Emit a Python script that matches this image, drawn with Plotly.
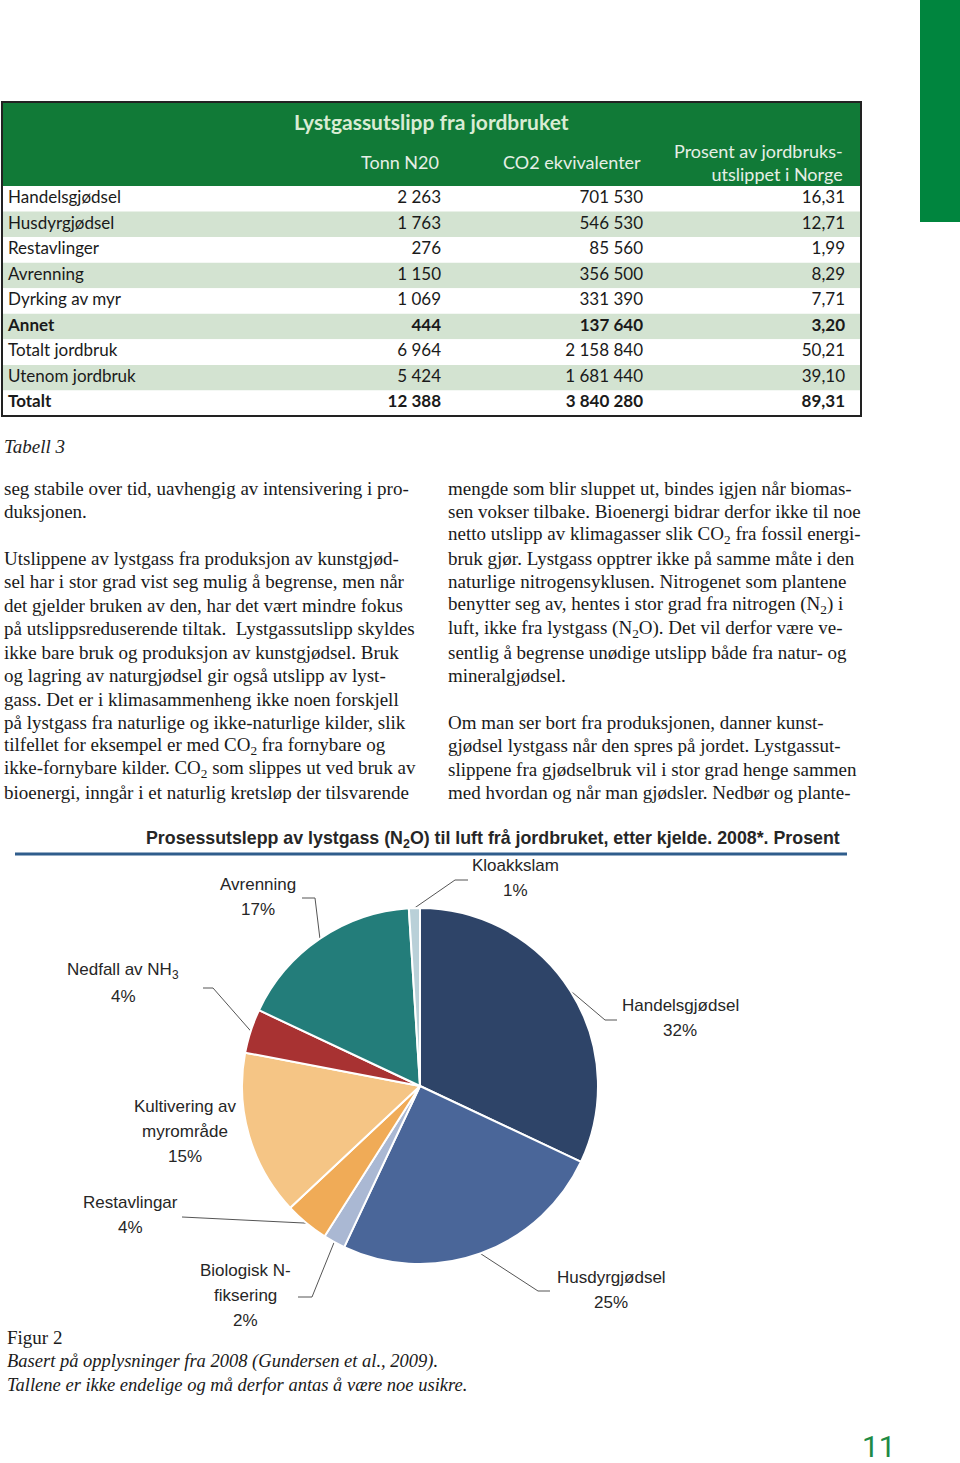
import math
import plotly.graph_objects as go

W, H = 960, 1463

# --- Tabell 3 data ---
ROW_LABELS = ["Handelsgjødsel", "Husdyrgjødsel", "Restavlinger", "Avrenning", "Dyrking av myr",
              "Annet", "Totalt jordbruk", "Utenom jordbruk", "Totalt"]
TONN_N2O = [2263, 1763, 276, 1150, 1069, 444, 6964, 5424, 12388]
CO2_EKV = [701530, 546530, 85560, 356500, 331390, 137640, 2158840, 1681440, 3840280]
PROSENT = [16.31, 12.71, 1.99, 8.29, 7.71, 3.20, 50.21, 39.10, 89.31]
BOLD_ROWS = ["Annet", "Totalt"]
COL_HEADERS = ["Tonn N20", "CO2 ekvivalenter", "Prosent av jordbruks-<br>utslippet i Norge"]

# --- Figur 2 data ---
PIE_LABELS = ["Handelsgjødsel", "Husdyrgjødsel", "Biologisk N-fiksering", "Restavlingar",
              "Kultivering av myrområde", "Nedfall av NH3", "Avrenning", "Kloakkslam"]
PIE_VALUES = [32, 25, 2, 4, 15, 4, 17, 1]
PIE_TEXT = [["Handelsgjødsel"], ["Husdyrgjødsel"], ["Biologisk N-", "fiksering"], ["Restavlingar"],
            ["Kultivering av", "myrområde"], ["Nedfall av NH<sub>3</sub>"], ["Avrenning"], ["Kloakkslam"]]
PIE_COLORS = ["#2e4468", "#4a6699", "#aab8d3", "#f0ab57", "#f5c585", "#a83232", "#237d7a", "#b9d0d8"]

LEFT_TEXT = [
    "seg stabile over tid, uavhengig av intensivering i pro-",
    "duksjonen.",
    "",
    "Utslippene av lystgass fra produksjon av kunstgjød-",
    "sel har i stor grad vist seg mulig å begrense, men når",
    "det gjelder bruken av den, har det vært mindre fokus",
    "på utslippsreduserende tiltak.  Lystgassutslipp skyldes",
    "ikke bare bruk og produksjon av kunstgjødsel. Bruk",
    "og lagring av naturgjødsel gir også utslipp av lyst-",
    "gass. Det er i klimasammenheng ikke noen forskjell",
    "på lystgass fra naturlige og ikke-naturlige kilder, slik",
    "tilfellet for eksempel er med CO<sub>2</sub> fra fornybare og",
    "ikke-fornybare kilder. CO<sub>2</sub> som slippes ut ved bruk av",
    "bioenergi, inngår i et naturlig kretsløp der tilsvarende",
]
RIGHT_TEXT = [
    "mengde som blir sluppet ut, bindes igjen når biomas-",
    "sen vokser tilbake. Bioenergi bidrar derfor ikke til noe",
    "netto utslipp av klimagasser slik CO<sub>2</sub> fra fossil energi-",
    "bruk gjør. Lystgass opptrer ikke på samme måte i den",
    "naturlige nitrogensyklusen. Nitrogenet som plantene",
    "benytter seg av, hentes i stor grad fra nitrogen (N<sub>2</sub>) i",
    "luft, ikke fra lystgass (N<sub>2</sub>O). Det vil derfor være ve-",
    "sentlig å begrense unødige utslipp både fra natur- og",
    "mineralgjødsel.",
    "",
    "Om man ser bort fra produksjonen, danner kunst-",
    "gjødsel lystgass når den spres på jordet. Lystgassut-",
    "slippene fra gjødselbruk vil i stor grad henge sammen",
    "med hvordan og når man gjødsler. Nedbør og plante-",
]

GREEN = "#117a37"
ROW_FILLS = ["white", "#d3e3d1"]
SERIF = "Liberation Serif"
SANS = "Liberation Sans"
TABLE_FONT = "Lato"

TABLE_X0, TABLE_X1 = 2, 861
TABLE_TOP, HEAD_BOTTOM, TABLE_BOTTOM = 102, 186, 416
COL_RIGHT = [441, 643, 845]

PIE_CX, PIE_CY, PIE_R = 420, 1086, 178
# label placement: first-line centre, leader elbow, leader end
LABEL_POS = {
    "Handelsgjødsel": ((680, 1005), (605, 1020), (617, 1020)),
    "Husdyrgjødsel": ((611, 1277), (538, 1291), (550, 1291)),
    "Biologisk N-fiksering": ((245, 1270), (312, 1297), (298, 1297)),
    "Restavlingar": ((130, 1202), (182, 1217), (182, 1217)),
    "Kultivering av myrområde": ((185, 1106), None, None),
    "Nedfall av NH3": ((123, 971), (213, 988), (203, 988)),
    "Avrenning": ((258, 884), (315, 898), (302, 898)),
    "Kloakkslam": ((515, 865), (455, 880), (468, 880)),
}


def px(x):
    return x / W


def py(y):
    return 1 - y / H


def fmt_int(v):
    return f"{v:,}".replace(",", " ")


def b(s, label):
    return f"<b>{s}</b>" if label in BOLD_ROWS else s


fig = go.Figure()

# table rows: background bands + cell texts on their own row axis
n = len(ROW_LABELS)
rows = list(range(n))
fig.add_trace(go.Bar(
    y=rows, x=[TABLE_X1 - TABLE_X0] * n, base=TABLE_X0, orientation="h", width=1,
    marker=dict(color=[ROW_FILLS[i % 2] for i in rows], line_width=0),
    xaxis="x2", yaxis="y2", hoverinfo="skip", showlegend=False,
))
fig.add_trace(go.Scatter(
    x=[TABLE_X0 + 6] * n, y=rows, mode="text", text=[b(l, l) for l in ROW_LABELS],
    textposition="middle right", textfont=dict(family=TABLE_FONT, size=17, color="#1a1a1a"),
    xaxis="x2", yaxis="y2", hoverinfo="skip", showlegend=False, cliponaxis=False,
))
for xr, vals in zip(COL_RIGHT, [[fmt_int(v) for v in TONN_N2O], [fmt_int(v) for v in CO2_EKV],
                                [f"{v:.2f}".replace(".", ",") for v in PROSENT]]):
    fig.add_trace(go.Scatter(
        x=[xr] * n, y=rows, mode="text", text=[b(v, l) for v, l in zip(vals, ROW_LABELS)],
        textposition="middle left", textfont=dict(family=TABLE_FONT, size=17, color="#1a1a1a"),
        xaxis="x2", yaxis="y2", hoverinfo="skip", showlegend=False, cliponaxis=False,
    ))

# pie
fig.add_trace(go.Pie(
    values=PIE_VALUES, labels=PIE_LABELS, sort=False, direction="clockwise", rotation=0,
    marker=dict(colors=PIE_COLORS, line=dict(color="white", width=2)),
    textinfo="none", showlegend=False,
    domain=dict(x=[px(PIE_CX - PIE_R), px(PIE_CX + PIE_R)], y=[py(PIE_CY + PIE_R), py(PIE_CY - PIE_R)]),
))

# leader lines, starting at the mid-angle of each slice
total = sum(PIE_VALUES)
cum = 0
lx, ly = [], []
annotations = []
for label, v, lines in zip(PIE_LABELS, PIE_VALUES, PIE_TEXT):
    mid = (cum + v / 2) / total * 2 * math.pi
    cum += v
    (tx, ty), elbow, end = LABEL_POS[label]
    if elbow is not None:
        sx = PIE_CX + PIE_R * math.sin(mid)
        sy = PIE_CY - PIE_R * math.cos(mid)
        lx += [sx, elbow[0], end[0], None]
        ly += [sy, elbow[1], end[1], None]
    for i, t in enumerate(lines + [f"{v}%"]):
        annotations.append(dict(x=tx, y=ty + 25 * i, text=t, showarrow=False, xanchor="center",
                                yanchor="middle", font=dict(family=SANS, size=17, color="#262626")))

fig.add_trace(go.Scatter(x=lx, y=ly, mode="lines", line=dict(color="#555555", width=1),
                         hoverinfo="skip", showlegend=False))

# table header texts
annotations.append(dict(x=431, y=121, text="<b>Lystgassutslipp fra jordbruket</b>", showarrow=False,
                        font=dict(family=TABLE_FONT, size=21, color="#d9ecd4")))
for xr, t in zip(COL_RIGHT, COL_HEADERS):
    annotations.append(dict(x=xr, y=162, text=t, showarrow=False, xanchor="right", yanchor="middle",
                            align="right", font=dict(family=TABLE_FONT, size=18, color="#e6efe6")))

annotations.append(dict(x=2, y=446, text="<i>Tabell 3</i>", showarrow=False, xanchor="left",
                        font=dict(family=SERIF, size=19, color="#222")))

# body text columns, one annotation per line
for x0, lines in [(2, LEFT_TEXT), (446, RIGHT_TEXT)]:
    for i, t in enumerate(lines):
        if t:
            annotations.append(dict(x=x0, y=488 + 23.45 * i, text=t, showarrow=False, xanchor="left",
                                    yanchor="middle", font=dict(family=SERIF, size=19, color="#1a1a1a")))

# pie title
annotations.append(dict(x=493, y=839,
                        text="<b>Prosessutslepp av lystgass (N<sub>2</sub>O) til luft frå jordbruket, etter kjelde. 2008*. Prosent</b>",
                        showarrow=False, font=dict(family=SANS, size=17.8, color="#262626")))

# caption
annotations.append(dict(x=5, y=1337, text="Figur 2", showarrow=False, xanchor="left",
                        font=dict(family=SERIF, size=19, color="#1a1a1a")))
for i, t in enumerate(["Basert på opplysninger fra 2008 (Gundersen et al., 2009).",
                       "Tallene er ikke endelige og må derfor antas å være noe usikre."]):
    annotations.append(dict(x=5, y=1361 + 23.5 * i, text=f"<i>{t}</i>", showarrow=False, xanchor="left",
                            yanchor="middle", font=dict(family=SERIF, size=18.5, color="#1a1a1a")))
annotations.append(dict(x=879, y=1446, text="11", showarrow=False,
                        font=dict(family="Liberation Sans Narrow, Roboto", size=30, color="#1e8a45")))

shapes = [
    dict(type="rect", x0=920, x1=960, y0=0, y1=222, fillcolor="#00853e", line_width=0, layer="below"),
    dict(type="rect", x0=TABLE_X0, x1=TABLE_X1, y0=TABLE_TOP, y1=HEAD_BOTTOM, fillcolor=GREEN,
         line_width=0, layer="below"),
    dict(type="rect", x0=TABLE_X0, x1=TABLE_X1, y0=TABLE_TOP, y1=TABLE_BOTTOM,
         line=dict(color="#222", width=2)),
    dict(type="line", x0=15, x1=847, y0=854, y1=854, line=dict(color="#2f5d8c", width=3)),
]
for s in shapes + annotations:
    s["xref"] = "x"
    s["yref"] = "y"

fig.update_layout(
    width=W, height=H,
    margin=dict(l=0, r=0, t=0, b=0),
    paper_bgcolor="white", plot_bgcolor="rgba(0,0,0,0)",
    xaxis=dict(range=[0, W], visible=False, domain=[0, 1], fixedrange=True),
    yaxis=dict(range=[H, 0], visible=False, domain=[0, 1], fixedrange=True),
    xaxis2=dict(range=[0, W], visible=False, domain=[0, 1], fixedrange=True, anchor="y2"),
    yaxis2=dict(range=[n - 0.5, -0.5], visible=False, fixedrange=True, anchor="x2",
                domain=[py(TABLE_BOTTOM), py(HEAD_BOTTOM)]),
    shapes=shapes, annotations=annotations, showlegend=False,
)
fig.write_html("out.html", config={"displayModeBar": False},
               post_script="document.body.style.margin='0';document.body.style.overflow='hidden';")
